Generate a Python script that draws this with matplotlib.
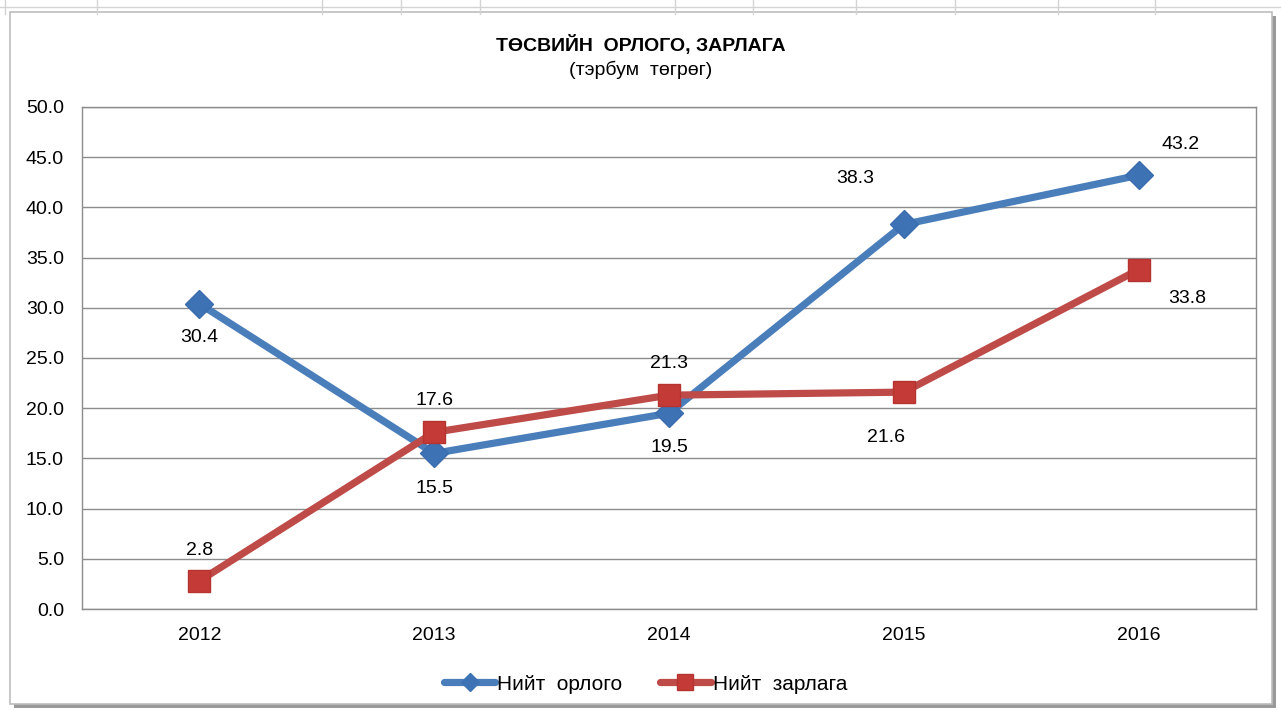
import matplotlib.pyplot as plt
from matplotlib.patches import Rectangle
from matplotlib.lines import Line2D

plt.rcParams['font.family'] = ['Liberation Sans', 'DejaVu Sans']

years = ['2012', '2013', '2014', '2015', '2016']
income = [30.4, 15.5, 19.5, 38.3, 43.2]
expense = [2.8, 17.6, 21.3, 21.6, 33.8]
income_name = 'Нийт  орлого'
expense_name = 'Нийт  зарлага'
title = 'ТӨСВИЙН  ОРЛОГО, ЗАРЛАГА'
subtitle = '(тэрбум  төгрөг)'

# label offsets in points (dx, dy) for each data label
income_off = [(0, -24), (0, -25), (0, -25), (-35, 33), (30, 22)]
expense_off = [(0, 22), (0, 23), (0, 23), (-13, -33), (35, -21)]

W, H = 1281, 711
fs = 14
fig = plt.figure(figsize=(W / 100, H / 100), dpi=100)
fig.patch.set_facecolor('white')

# spreadsheet grid behind the chart
for xg in [5, 97, 322, 401, 480, 675, 753, 856, 955, 1058, 1155]:
    fig.add_artist(Line2D([xg / W, xg / W], [1, 1 - 14 / H], color='#d4d4d4', lw=1))
fig.add_artist(Line2D([0, 1], [1 - 7 / H, 1 - 7 / H], color='#d4d4d4', lw=1))

# chart frame with shadow
fig.add_artist(Rectangle((14 / W, 1 - 708 / H), 1262 / W, 692 / H, transform=fig.transFigure,
                         facecolor='#9a9a9a', edgecolor='none', zorder=0))
fig.add_artist(Rectangle((10 / W, 1 - 704 / H), 1262 / W, 692 / H, transform=fig.transFigure,
                         facecolor='white', edgecolor='#bdbdbd', lw=1.2, zorder=0))

ax = fig.add_axes([82 / W, 1 - 609 / H, 1174 / W, 502 / H])
ax.set_zorder(2)
ax.set_xlim(-0.5, 4.5)
ax.set_ylim(0, 50)
ax.set_yticks(range(0, 51, 5))
ax.set_yticklabels([f'{v:.1f}' for v in range(0, 51, 5)])
ax.set_xticks(range(len(years)))
ax.set_xticklabels(years)
ax.tick_params(length=0, labelsize=fs, colors='black')
ax.tick_params(axis='y', pad=13)
ax.tick_params(axis='x', pad=13)
ax.grid(axis='y', color='#8c8c8c', lw=1)
ax.set_axisbelow(True)
for s in ax.spines.values():
    s.set_color('#8c8c8c')
    s.set_linewidth(1)

x = list(range(len(years)))
ax.plot(x, income, color='#4a7ebb', lw=5.2, solid_capstyle='round', zorder=3)
ax.plot(x, income, ls='none', marker='D', ms=14, mfc='#3d72b5', mec='#3a6cae', zorder=3.5)
ax.plot(x, expense, color='#be4b48', lw=5.2, solid_capstyle='round', zorder=4)
ax.plot(x, expense, ls='none', marker='s', ms=15.5, mfc='#c43a37', mec='#b53431', zorder=4.5)

for i in x:
    ax.annotate(f'{income[i]:.1f}', (i, income[i]), xytext=income_off[i], textcoords='offset points',
                ha='center', va='center', fontsize=fs)
    ax.annotate(f'{expense[i]:.1f}', (i, expense[i]), xytext=expense_off[i], textcoords='offset points',
                ha='center', va='center', fontsize=fs)

fig.text(0.5, 1 - 45 / H, title, ha='center', va='center', fontsize=fs, fontweight='bold')
fig.text(0.5, 1 - 70 / H, subtitle, ha='center', va='center', fontsize=fs)

handles = [
    Line2D([], [], color='#4a7ebb', lw=5.2, marker='D', ms=9, mfc='#3d72b5', mec='#3d72b5',
           solid_capstyle='round'),
    Line2D([], [], color='#be4b48', lw=5.2, marker='s', ms=11, mfc='#c43a37', mec='#b53431',
           solid_capstyle='round'),
]
fig.legend(handles, [income_name, expense_name], loc='center', bbox_to_anchor=(0.504, 1 - 684 / H),
           ncol=2, frameon=False, fontsize=15, handlelength=2.45, handletextpad=0.1,
           columnspacing=1.8)

fig.savefig('out.png', dpi=100)
